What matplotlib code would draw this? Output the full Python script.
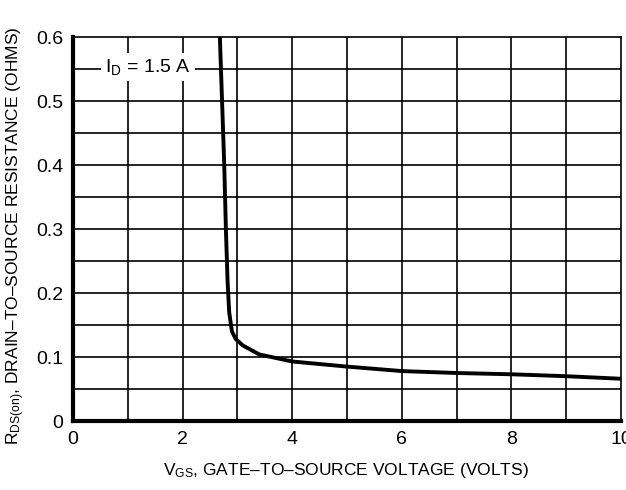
import matplotlib
matplotlib.use("Agg")
import matplotlib.pyplot as plt
import numpy as np

fam = 'Liberation Sans'
plt.rcParams['font.family'] = [fam, 'DejaVu Sans']
plt.rcParams['mathtext.fontset'] = 'custom'
plt.rcParams['mathtext.rm'] = fam
plt.rcParams['mathtext.it'] = fam

# data
vgs = [2.68, 2.72, 2.76, 2.79, 2.82, 2.85, 2.90, 2.97, 3.1, 3.4, 4.0, 5.0, 6.0, 7.0, 8.0, 9.0, 10.0]
rds = [0.60, 0.50, 0.40, 0.30, 0.22, 0.17, 0.14, 0.128, 0.118, 0.104, 0.093, 0.085, 0.078, 0.075, 0.073, 0.070, 0.066]

x_ticks = [0, 2, 4, 6, 8, 10]
y_ticks = [0, 0.1, 0.2, 0.3, 0.4, 0.5, 0.6]
y_tick_labels = ['0', '0.1', '0.2', '0.3', '0.4', '0.5', '0.6']

fig = plt.figure(figsize=(6.26, 4.90), dpi=100)
ax = fig.add_axes([73/626, 1-421/490, (621-73)/626, (421-37)/490])
ax.set_xlim(0, 10)
ax.set_ylim(0, 0.6)

for xv in np.arange(1, 10, 1):
    ax.axvline(xv, color='black', lw=1.2, zorder=1)
for yv in np.arange(0.05, 0.6, 0.05):
    ax.axhline(yv, color='black', lw=1.2, zorder=1)

ax.plot(vgs, rds, color='black', lw=2.8, zorder=3, solid_capstyle='butt')

ax.set_xticks(x_ticks)
ax.set_xticklabels([str(v) for v in x_ticks])
ax.set_yticks(y_ticks)
ax.set_yticklabels(y_tick_labels)
ax.tick_params(length=0, labelsize=14, pad=7)

ax.spines['left'].set_linewidth(3)
ax.spines['bottom'].set_linewidth(3)
ax.spines['top'].set_linewidth(1.2)
ax.spines['right'].set_linewidth(1.2)

ax.text(1.37, 0.553, r'I$_{\mathrm{D}}$ = 1.5 A', fontsize=14, ha='center', va='center',
        zorder=4, bbox=dict(facecolor='white', edgecolor='none', pad=3))

fig.text(346/626, 1 - 470/490,
         r'V$_{\mathrm{GS}}$, GATE–TO–SOURCE VOLTAGE (VOLTS)', fontsize=12.5,
         ha='center', va='center')
fig.text(16/626, 1 - 236/490,
         r'R$_{\mathrm{DS(on)}}$, DRAIN–TO–SOURCE RESISTANCE (OHMS)', fontsize=12.5,
         ha='center', va='center', rotation=90)

fig.savefig('out.png', dpi=100)
